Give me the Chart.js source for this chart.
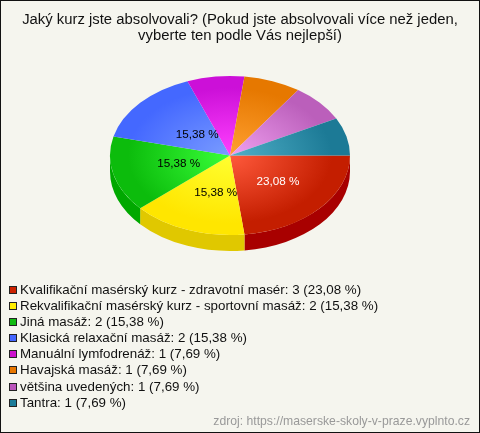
<!DOCTYPE html>
<html lang="cs">
<head>
    <meta charset="UTF-8">
    <title>Jaký kurz jste absolvovali?</title>
    <script src="https://cdn.jsdelivr.net/npm/chart.js"></script>
    <style>
        html, body { margin: 0; padding: 0; background: #f5f5ee; }
        #box { position: relative; width: 480px; height: 433px; overflow: hidden; font-family: "Liberation Sans", Arial, sans-serif; }
        #box canvas { position: absolute; left: 0; top: 0; }
        #frame { position: absolute; left: 0; top: 0; width: 478px; height: 431px; border: 1px solid #111; }
        #heading { position: absolute; left: 0; top: 12px; width: 480px; text-align: center; color: #111; font-size: 14.85px; line-height: 15.5px; white-space: nowrap; }
        #legend { position: absolute; left: 9px; top: 282px; color: #111; font-size: 13.35px; line-height: 16.1px; }
        #legend div { white-space: nowrap; }
        #legend i { display: inline-block; width: 6px; height: 6px; border: 1px solid #222; margin-right: 3px; vertical-align: 0; }
        #source { position: absolute; right: 10px; top: 414px; color: #999; font-size: 12.2px; }
    </style>
</head>
<body>
<div id="box">
    <canvas id="pie" width="480" height="433"></canvas>
    <div id="frame"></div>
    <div id="heading"></div>
    <div id="legend"></div>
    <div id="source">zdroj: https://maserske-skoly-v-praze.vyplnto.cz</div>
</div>

<script>
    const titleLines = ['Jaký kurz jste absolvovali? (Pokud jste absolvovali více než jeden,', 'vyberte ten podle Vás nejlepší)'];
    const categories = [
        'Kvalifikační masérský kurz - zdravotní masér',
        'Rekvalifikační masérský kurz - sportovní masáž',
        'Jiná masáž',
        'Klasická relaxační masáž',
        'Manuální lymfodrenáž',
        'Havajská masáž',
        'většina uvedených',
        'Tantra'
    ];
    const counts = [3, 2, 2, 2, 1, 1, 1, 1];

    const innerColors = ['#ff5a3c', '#ffff30', '#39ff39', '#7a9cff', '#ff40ff', '#ffa030', '#f0a0f0', '#50b0c8'];
    const outerColors = ['#c41e00', '#ffe600', '#0cbc0c', '#4468ff', '#cc10d8', '#e67800', '#bb5fbb', '#1c7a96'];
    const wallColors = ['#a80000', '#e0c800', '#00a800', '#3048c0', '#a000a0', '#b05800', '#904090', '#145c70'];
    const legendColors = ['#cc2200', '#ffee00', '#11bb11', '#4466ff', '#cc11cc', '#e87700', '#bb55bb', '#1c7c99'];
    const labelColors = ['#ffffff', '#000000', '#000000', '#000000'];
    const labelNudge = [[3, 0], [7, 0], [7, -1], [12, 6]];

    const total = counts.reduce((a, b) => a + b, 0);
    const pct = v => (v / total * 100).toFixed(2).replace('.', ',') + ' %';

    const squash = 0.6625;  // tilt of the pie
    const depth = 16;       // height of the side wall

    document.getElementById('heading').innerHTML = titleLines.join('<br>');

    // legend list under the chart
    const legend = document.getElementById('legend');
    categories.forEach((name, i) => {
        const row = document.createElement('div');
        const mark = document.createElement('i');
        mark.style.background = legendColors[i];
        row.appendChild(mark);
        row.appendChild(document.createTextNode(name + ': ' + counts[i] + ' (' + pct(counts[i]) + ')'));
        legend.appendChild(row);
    });

    function sliceFill(ctx) {
        const area = ctx.chart.chartArea;
        if (!area) return outerColors[ctx.dataIndex];
        const x = (area.left + area.right) / 2;
        const y = (area.top + area.bottom) / 2;
        const g = ctx.chart.ctx.createRadialGradient(x, y, 0, x, y, 120);
        g.addColorStop(0, innerColors[ctx.dataIndex]);
        g.addColorStop(0.85, outerColors[ctx.dataIndex]);
        g.addColorStop(1, outerColors[ctx.dataIndex]);
        return g;
    }

    const tiltPlugin = {
        id: 'tilt',
        beforeDatasetsDraw(chart) {
            // side wall, only the part facing the viewer
            const c = chart.ctx;
            chart.getDatasetMeta(0).data.forEach((arc, i) => {
                const a = Math.max(arc.startAngle, 0);
                const b = Math.min(arc.endAngle, Math.PI);
                if (b <= a) return;
                const rx = arc.outerRadius;
                const ry = rx * squash;
                c.beginPath();
                c.ellipse(arc.x, arc.y, rx, ry, 0, a, b);
                c.ellipse(arc.x, arc.y + depth, rx, ry, 0, b, a, true);
                c.closePath();
                c.fillStyle = wallColors[i];
                c.fill();
            });
        },
        beforeDatasetDraw(chart) {
            const y = chart.getDatasetMeta(0).data[0].y;
            const c = chart.ctx;
            c.save();
            c.translate(0, y);
            c.scale(1, squash);
            c.translate(0, -y);
        },
        afterDatasetDraw(chart) {
            const c = chart.ctx;
            c.restore();
            c.font = '11.7px "Liberation Sans", Arial, sans-serif';
            c.textAlign = 'center';
            c.textBaseline = 'middle';
            chart.getDatasetMeta(0).data.forEach((arc, i) => {
                if (counts[i] / total < 0.15) return;
                const p = arc.getCenterPoint();
                c.fillStyle = labelColors[i];
                c.fillText(pct(counts[i]), p.x + labelNudge[i][0], arc.y + (p.y - arc.y) * squash + labelNudge[i][1]);
            });
        }
    };

    new Chart(document.getElementById('pie'), {
        type: 'pie',
        data: {
            labels: categories,
            datasets: [{
                data: counts,
                backgroundColor: sliceFill,
                borderWidth: 0,
                radius: 120,
                clip: false
            }]
        },
        options: {
            responsive: false,
            animation: false,
            rotation: 90,
            layout: { padding: { left: 110, right: 130, top: 50, bottom: 172 } },
            plugins: {
                legend: { display: false },
                tooltip: { enabled: false },
                title: { display: false }
            }
        },
        plugins: [tiltPlugin]
    });
</script>
</body>
</html>
